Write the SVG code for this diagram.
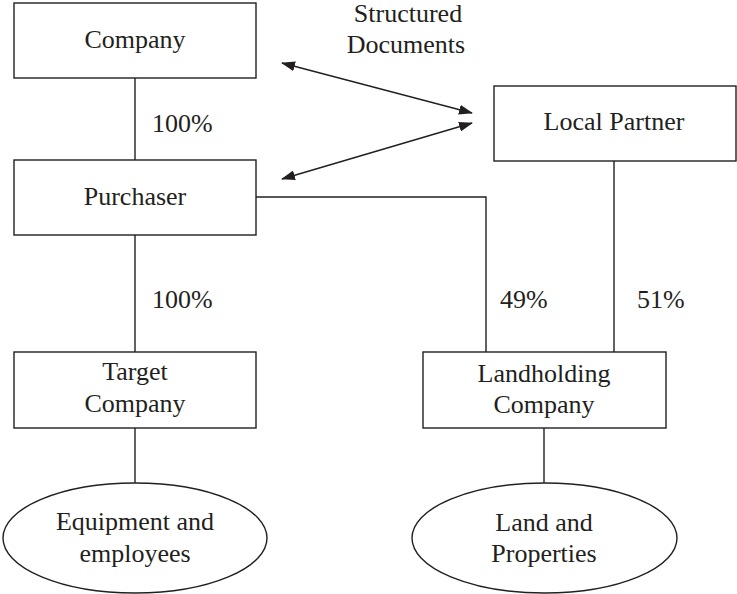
<svg xmlns="http://www.w3.org/2000/svg" width="737" height="594" viewBox="0 0 737 594">
  <style>
    .box { fill: #ffffff; stroke: #231f20; stroke-width: 1.4; }
    .link { fill: none; stroke: #231f20; stroke-width: 1.4; }
    .lbl { font-family: "Liberation Serif", "Times New Roman", serif; font-size: 26px; fill: #231f20; text-anchor: middle; }
    .pct { font-family: "Liberation Serif", "Times New Roman", serif; font-size: 26px; fill: #231f20; }
  </style>
  <defs>
    <marker id="tip" viewBox="0 0 14 10" refX="13" refY="5" markerWidth="14" markerHeight="10" markerUnits="userSpaceOnUse" orient="auto-start-reverse">
      <path d="M0,0 L14,5 L0,10 Z" fill="#231f20"/>
    </marker>
  </defs>
  <rect width="737" height="594" fill="#ffffff"/>

  <!-- connectors -->
  <g id="connectors">
    <line class="link" x1="135" y1="78" x2="135" y2="160"/>
    <line class="link" x1="135" y1="235" x2="135" y2="352"/>
    <polyline class="link" points="256,197 486,197 486,352"/>
    <line class="link" x1="614" y1="161" x2="614" y2="352"/>
    <line class="link" x1="135" y1="428" x2="135" y2="483"/>
    <line class="link" x1="544" y1="428" x2="544" y2="483"/>
    <line class="link" x1="282" y1="63" x2="472" y2="113" marker-start="url(#tip)" marker-end="url(#tip)"/>
    <line class="link" x1="282" y1="179" x2="472" y2="123" marker-start="url(#tip)" marker-end="url(#tip)"/>
    <text class="pct" x="152" y="132">100%</text>
    <text class="pct" x="152" y="308">100%</text>
    <text class="pct" x="500" y="308">49%</text>
    <text class="pct" x="637" y="308">51%</text>
    <text class="lbl" x="408" y="22">Structured</text>
    <text class="lbl" x="406" y="53">Documents</text>
  </g>

  <g id="company">
    <rect class="box" x="14" y="3" width="242" height="75"/>
    <text class="lbl" x="135" y="48">Company</text>
  </g>

  <g id="purchaser">
    <rect class="box" x="14" y="160" width="242" height="75"/>
    <text class="lbl" x="135" y="205">Purchaser</text>
  </g>

  <g id="local-partner">
    <rect class="box" x="494" y="86" width="242" height="75"/>
    <text class="lbl" x="614" y="130">Local Partner</text>
  </g>

  <g id="target-company">
    <rect class="box" x="14" y="352" width="242" height="76"/>
    <text class="lbl" x="135" y="380">Target</text>
    <text class="lbl" x="135" y="412">Company</text>
  </g>

  <g id="landholding-company">
    <rect class="box" x="423" y="352" width="243" height="76"/>
    <text class="lbl" x="544" y="382">Landholding</text>
    <text class="lbl" x="544" y="413">Company</text>
  </g>

  <g id="equipment">
    <ellipse class="box" cx="135" cy="538" rx="132" ry="55"/>
    <text class="lbl" x="135" y="530">Equipment and</text>
    <text class="lbl" x="135" y="562">employees</text>
  </g>

  <g id="land">
    <ellipse class="box" cx="544.5" cy="538" rx="132.5" ry="55"/>
    <text class="lbl" x="544" y="531">Land and</text>
    <text class="lbl" x="544" y="562">Properties</text>
  </g>
</svg>
